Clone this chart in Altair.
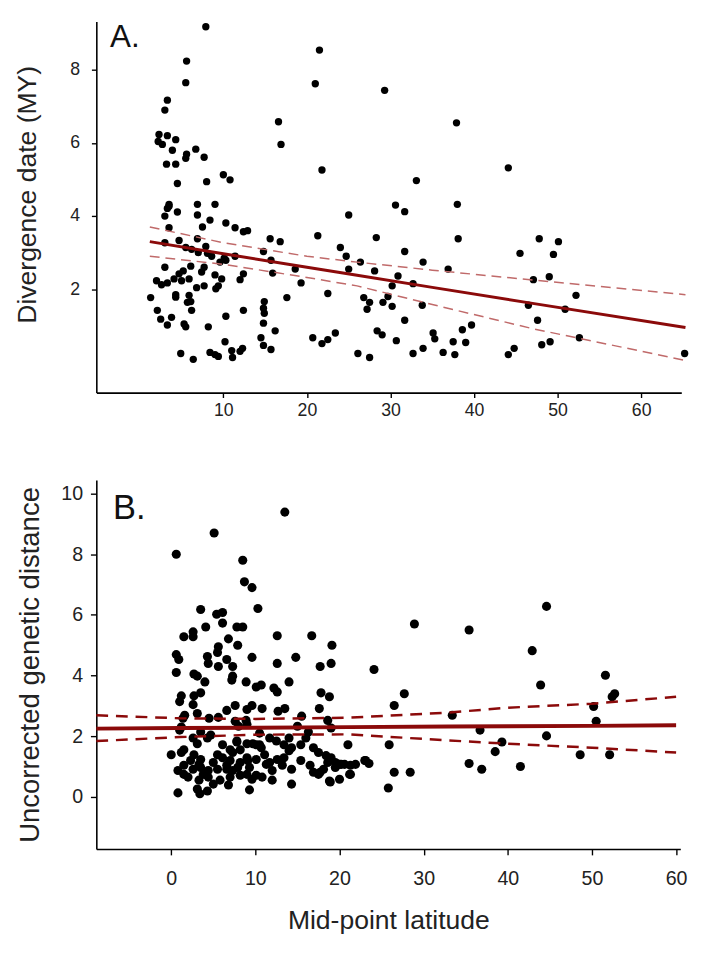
import altair as alt
import pandas as pd

# ---------------- Panel A: divergence date vs mid-point latitude ----------------
a_lat = [7.9, 5.6, 5.5, 3.3, 3.0, 2.3, 3.3, 2.2, 2.7, 4.3, 3.9, 3.2, 4.3, 5.5, 5.6, 6.7, 7.7, 4.5, 8.0, 10.0,
         10.8, 3.5, 6.9, 9.0, 16.6, 16.9, 21.5, 21.0, 21.8, 29.3, 37.9, 44.1, 33.1, 30.6, 31.7, 38.0,
         25.0, 28.3, 38.1, 31.7, 24.0, 24.7, 26.4, 25.0, 28.1, 33.9, 36.9, 30.9, 30.2, 32.7, 26.8, 27.5,
         27.2, 29.7, 29.1, 30.2, 33.8, 31.7, 23.4, 28.4, 29.0, 30.7, 35.1, 35.3, 38.6, 39.7, 37.5, 39.0,
         26.1, 27.5, 32.7, 33.9, 36.3, 37.7, 44.1, 44.8, 45.5, 47.8, 50.1, 49.5, 47.1, 49.0, 46.5, 50.9,
         52.2, 47.6, 48.1, 49.1, 52.6, 65.2,
         3.5, 4.5, 3.0, 3.3, 6.9, 8.4, 7.5, 3.5, 10.3, 11.4, 12.4, 12.9, 4.7, 3.0, 6.9, 5.5, 6.2, 7.9,
         7.0, 8.1, 8.6, 11.4, 9.6, 10.3, 3.0, 6.1, 5.2, 4.7, 7.7, 7.4, 9.0, 9.8, 12.4, 12.0, 2.0, 2.6,
         3.3, 4.1, 5.0, 5.9, 6.8, 7.7, 9.4, 9.1, 4.3, 5.9, 6.1, 4.3, 1.3, 5.7, 6.2, 2.1, 2.5, 3.8, 3.3,
         5.3, 5.5, 8.2, 10.3, 12.4, 14.9, 14.8, 14.9, 17.6, 14.8, 16.2, 14.5, 14.8, 15.7, 10.2, 11.0,
         11.1, 12.3, 12.0, 4.9, 6.4, 8.4, 9.4, 9.0, 14.8, 15.6, 16.8, 15.7, 15.9, 18.6, 21.3, 19.3,
         22.5, 20.7, 21.8, 22.5, 10.1]
a_div = [9.18, 8.24, 7.65, 7.17, 6.90, 6.23, 6.20, 6.04, 5.96, 6.09, 5.80, 5.42, 5.42, 5.58, 5.69, 5.83, 5.61,
         4.89, 4.94, 5.13, 4.99, 4.32, 4.32, 4.32, 6.58, 5.96, 8.54, 7.62, 5.26, 7.44, 6.55, 5.32, 4.97,
         4.30, 4.12, 4.32,
         4.03, 3.41, 3.38, 3.03, 3.14, 2.90, 2.74, 2.55, 2.50, 2.74, 2.55, 2.36, 2.09, 2.15, 1.77, 1.64,
         1.45, 1.80, 1.64, 1.53, 1.56, 1.15, 0.80, 0.86, 0.75, 0.59, 0.80, 0.64, 0.89, 1.02, 0.56, 0.54,
         0.24, 0.13, 0.24, 0.38, 0.27, 0.21, 0.21, 0.38, 2.98, 3.38, 3.30, 2.95, 2.26, 2.34, 1.56, 1.45,
         1.83, 1.15, 0.48, 0.56, 0.67, 0.24,
         4.27, 4.11, 4.00, 4.21, 4.03, 3.89, 3.70, 3.68, 3.81, 3.68, 3.57, 3.60, 3.33, 3.27, 3.38, 3.14,
         3.09, 3.17, 3.00, 2.98, 2.90, 2.90, 2.74, 2.79, 2.60, 2.63, 2.50, 2.42, 2.60, 2.47, 2.39, 2.28,
         2.42, 2.26, 2.23, 2.12, 2.17, 2.28, 2.23, 2.28, 2.04, 2.09, 2.09, 2.01, 1.85, 1.83, 1.66, 1.78,
         1.77, 1.64, 1.42, 1.42, 1.18, 1.23, 1.02, 1.05, 0.97, 0.97, 1.26, 1.42, 1.66, 1.48, 1.34, 1.77,
         1.07, 0.86, 0.67, 0.46, 0.35, 0.56, 0.32, 0.13, 0.38, 0.30, 0.24, 0.08, 0.27, 0.16, 0.21, 3.03,
         3.38, 3.30, 2.79, 2.44, 2.55, 3.46, 2.17, 1.88, 0.67, 0.51, 0.62, 2.85]

a_line_lat = [1.2, 10, 20, 26, 35, 47, 65.3]
a_fit = [3.30, 2.97, 2.60, 2.38, 2.05, 1.61, 0.95]
a_upper = [3.70, 3.27, 2.90, 2.74, 2.52, 2.25, 1.85]
a_lower = [2.90, 2.68, 2.32, 2.09, 1.58, 0.92, 0.05]

# ---------------- Panel B: uncorrected genetic distance vs latitude ----------------
b_lat = [0.6, 5.1, 13.5, 8.5, 8.7, 9.6, 10.3, 3.5, 5.4, 6.1, 4.1, 6.1, 1.5, 2.6, 2.6, 7.8, 8.5, 6.8, 12.6,
         16.7, 19.1, 7.9, 5.6, 28.9, 35.4, 44.6, 42.9,
         5.5, 0.6, 0.9, 4.3, 4.4, 5.6, 6.6, 7.3, 9.6, 14.8, 12.6, 17.7, 19.0, 0.6, 2.7, 3.1, 7.3, 24.1,
         4.0, 7.2, 8.9, 10.1, 10.7, 12.2, 12.6, 14.0, 17.8, 18.8, 1.2, 1.0, 2.7, 2.6, 3.5, 1.6, 1.4, 3.1,
         4.5, 5.6, 6.6, 7.6, 9.0, 9.6, 10.8, 12.7, 13.5, 15.5, 17.6, 18.6, 1.2, 1.0, 3.5, 7.6, 8.0, 8.9,
         9.0, 10.5, 15.0, 16.3, 19.0,
         0.0, 1.2, 1.5, 2.6, 3.1, 4.3, 4.7, 6.1, 7.0, 7.3, 7.8, 9.0, 9.7, 10.1, 10.7, 11.7, 12.5, 13.4,
         14.0, 14.3, 15.4, 16.0, 16.9, 17.5, 18.4, 19.0, 19.5, 20.0, 21.0, 20.6, 21.3, 21.9,
         0.8, 1.5, 2.6, 3.5, 4.4, 5.5, 6.6, 7.3, 7.9, 9.0,
         2.3, 3.5, 5.0, 6.1, 7.0, 8.2, 9.1, 10.1,
         11.3, 12.0, 13.2, 14.3, 15.4, 16.5, 16.9, 17.5,
         2.0, 3.3, 4.4, 5.8, 7.0, 8.2, 9.6, 10.8,
         12.0, 14.3, 18.8, 20.0, 21.2,
         3.1, 4.3, 9.3, 6.8, 5.0, 0.8, 3.4, 17.7, 18.1, 1.5,
         2.7, 3.3, 3.8, 5.5, 6.6, 7.8, 8.2, 9.0, 9.3, 10.1, 10.5, 11.1, 11.7, 12.6, 13.4, 14.0, 18.6,
         19.5, 20.2, 23.1, 18.9,
         27.7, 26.5, 33.4, 43.9, 51.6, 52.7, 52.4, 50.2, 50.5, 36.7, 44.6, 39.3, 38.5, 48.6, 52.1, 35.4,
         36.9, 41.5, 25.9, 26.5, 28.4, 25.8, 19.8, 21.3, 23.0, 23.5]
b_dist = [8.00, 8.70, 9.39, 7.80, 7.09, 6.90, 6.21, 6.18, 6.02, 6.08, 5.60, 5.73, 5.28, 5.44, 5.28, 5.60,
          5.60, 5.21, 5.31, 5.31, 5.00, 5.00, 4.95, 5.70, 5.50, 6.28, 4.82,
          4.76, 4.69, 4.53, 4.63, 4.40, 4.30, 4.53, 4.30, 4.60, 4.60, 4.40, 4.30, 4.40, 4.10, 4.05, 3.98,
          3.98, 4.20,
          3.79, 3.85, 3.79, 3.62, 3.69, 3.59, 3.46, 3.79, 3.43, 3.30, 3.33, 3.14, 3.33, 3.04, 3.43, 2.69,
          2.59, 2.75, 2.59, 2.62, 2.85, 3.01, 2.88, 3.01, 2.91, 2.82, 2.91, 2.66, 2.91, 2.52, 2.30, 2.20,
          2.14, 2.49, 2.33, 2.52, 2.39, 2.10, 2.33, 2.14, 2.27,
          1.39, 1.46, 1.55, 1.94, 1.75, 1.94, 2.04, 1.72, 1.55, 1.46, 1.81, 1.75, 1.75, 1.72, 1.62, 1.94,
          1.84, 1.72, 1.94, 1.62, 1.72, 1.94, 1.62, 1.46, 1.36, 1.29, 1.13, 1.07, 1.72, 1.07, 1.04, 1.07,
          0.87, 0.74, 0.91, 0.97, 0.87, 0.91, 1.04, 0.87, 0.97, 0.74,
          1.20, 1.23, 1.13, 1.29, 1.20, 1.13, 1.20, 1.23,
          1.07, 0.87, 1.04, 0.91, 1.20, 1.04, 0.81, 0.74,
          0.65, 0.55, 0.65, 0.55, 0.65, 0.71, 0.58, 0.65,
          0.55, 0.42, 0.52, 0.58, 0.74,
          0.26, 0.19, 0.23, 0.39, 0.42, 0.13, 0.10, 0.81, 0.91, 1.04,
          1.39, 1.07, 0.74, 1.39, 0.91, 1.84, 1.55, 1.29, 0.97, 0.71, 1.72, 1.39, 1.13, 1.23, 1.29, 1.52,
          1.13, 0.97, 1.07, 1.20, 0.49,
          3.40, 3.01, 2.69, 3.69, 4.01, 3.40, 3.30, 2.98, 2.49, 2.20, 2.01, 1.81, 1.49, 1.39, 1.39, 1.10,
          0.91, 1.00, 1.72, 0.81, 0.81, 0.29, 1.07, 0.74, 1.20, 1.10]

b_line_lat = [-8.9, 1, 10, 21, 33, 40, 50, 60]
b_fit = [2.25, 2.27, 2.28, 2.30, 2.32, 2.33, 2.34, 2.36]
b_upper = [2.69, 2.59, 2.57, 2.61, 2.78, 2.94, 3.07, 3.30]
b_lower = [1.84, 1.97, 2.05, 2.06, 1.86, 1.75, 1.62, 1.46]

FONT = "Liberation Sans"
DARK_RED = "#8B0A0A"

# ---------------- build panel A ----------------
dfA = pd.DataFrame({"lat": a_lat, "val": a_div})
dfA_fit = pd.DataFrame({"lat": a_line_lat, "val": a_fit})
dfA_up = pd.DataFrame({"lat": a_line_lat, "val": a_upper})
dfA_lo = pd.DataFrame({"lat": a_line_lat, "val": a_lower})

xA = alt.X("lat:Q", scale=alt.Scale(domain=[-5.2, 64.8], nice=False, zero=False),
           axis=alt.Axis(values=[10, 20, 30, 40, 50, 60], title=None, labelFontSize=18,
                         labelPadding=4, tickSize=5))
yA = alt.Y("val:Q", scale=alt.Scale(domain=[-0.83, 9.32], nice=False, zero=False),
           axis=alt.Axis(values=[2, 4, 6, 8], title="Divergence date (MY)", titleFontSize=27,
                         titleFontWeight="normal", titlePadding=29, titleY=176, labelFontSize=18,
                         labelPadding=12, tickSize=5))

ptsA = alt.Chart(dfA).mark_circle(size=56, color="black", opacity=1).encode(x=xA, y=yA)
fitA = alt.Chart(dfA_fit).mark_line(color=DARK_RED, strokeWidth=3).encode(x=xA, y=yA)
upA = alt.Chart(dfA_up).mark_line(color="#C06A6A", strokeWidth=1.5, strokeDash=[10, 6]).encode(x=xA, y=yA)
loA = alt.Chart(dfA_lo).mark_line(color="#C06A6A", strokeWidth=1.5, strokeDash=[10, 6]).encode(x=xA, y=yA)
labA = alt.Chart(pd.DataFrame({"t": ["A."]})).mark_text(
    fontSize=32, font=FONT, align="left", baseline="alphabetic", color="#111"
).encode(text="t:N", x=alt.value(14), y=alt.value(26))

panelA = alt.layer(ptsA, upA, loA, fitA, labA).properties(width=596, height=378)

# ---------------- build panel B ----------------
dfB = pd.DataFrame({"lat": b_lat, "val": b_dist})
dfB_fit = pd.DataFrame({"lat": b_line_lat, "val": b_fit})
dfB_up = pd.DataFrame({"lat": b_line_lat, "val": b_upper})
dfB_lo = pd.DataFrame({"lat": b_line_lat, "val": b_lower})

xB = alt.X("lat:Q", scale=alt.Scale(domain=[-8.9, 60.5], nice=False, zero=False),
           axis=alt.Axis(values=[0, 10, 20, 30, 40, 50, 60], title="Mid-point latitude",
                         titleFontSize=27, titleFontWeight="normal", titlePadding=20,
                         labelFontSize=20, labelPadding=14, tickSize=6))
yB = alt.Y("val:Q", scale=alt.Scale(domain=[-1.72, 10.45], nice=False, zero=False),
           axis=alt.Axis(values=[0, 2, 4, 6, 8, 10], title="Uncorrected genetic distance",
                         titleFontSize=28, titleFontWeight="normal", titlePadding=17,
                         labelFontSize=20, labelPadding=8, tickSize=6))

ptsB = alt.Chart(dfB).mark_circle(size=86, color="black", opacity=1).encode(x=xB, y=yB)
fitB = alt.Chart(dfB_fit).mark_line(color=DARK_RED, strokeWidth=4).encode(x=xB, y=yB)
upB = alt.Chart(dfB_up).mark_line(color=DARK_RED, strokeWidth=2.5, strokeDash=[12, 8]).encode(x=xB, y=yB)
loB = alt.Chart(dfB_lo).mark_line(color=DARK_RED, strokeWidth=2.5, strokeDash=[12, 8]).encode(x=xB, y=yB)
labB = alt.Chart(pd.DataFrame({"t": ["B."]})).mark_text(
    fontSize=35, font=FONT, align="left", baseline="alphabetic", color="#111"
).encode(text="t:N", x=alt.value(17), y=alt.value(40))

panelB = alt.layer(ptsB, upB, loB, fitB, labB).properties(width=595, height=376)

chart = alt.vconcat(panelA, panelB, spacing=62).configure_view(stroke=None).configure_axis(
    domainColor="black", tickColor="black", domainWidth=1.6, tickWidth=1.4, grid=False,
    labelFont=FONT, titleFont=FONT, labelColor="#222", titleColor="#222"
)

chart.save("out.html", embed_options={"renderer": "svg", "actions": False})
